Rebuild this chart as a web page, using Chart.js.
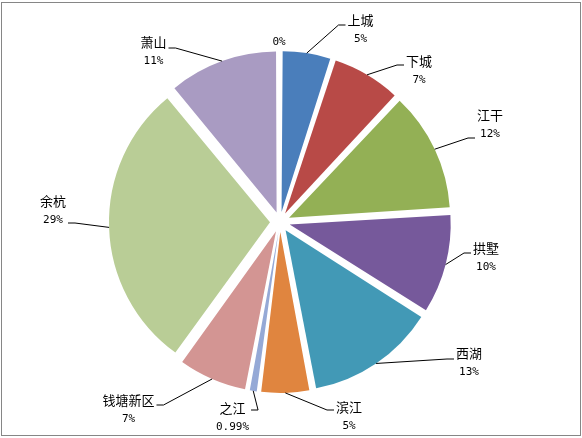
<!DOCTYPE html>
<html>
<head>
<meta charset="utf-8">
<script src="https://cdn.jsdelivr.net/npm/chart.js@4"></script>
<style>
html,body{margin:0;padding:0;background:#fff;}
#wrap{position:relative;width:582px;height:438px;}
</style>
</head>
<body>
<div id="wrap"><canvas id="c" width="582" height="438"></canvas></div>
<script>
// ---- data ----
const categories = ['', '上城', '下城', '江干', '拱墅', '西湖', '滨江', '之江', '钱塘新区', '余杭', '萧山'];
const shares = [0, 5, 7, 12, 10, 13, 5, 0.99, 7, 29, 11];
const shareLabels = ['0%', '5%', '7%', '12%', '10%', '13%', '5%', '0.99%', '7%', '29%', '11%'];
const sliceColors = ['#4a7ebb', '#4a7ebb', '#b84a47', '#93b055', '#76599b', '#4299b6', '#e0853f', '#95a9d6', '#d39593', '#b9cd96', '#a99bc2'];

// ---- layout / style ----
const EXPLODE = 10;   // px each slice is pulled out
const RADIUS = 161;
// label block centre offsets from pie centre, and vertical attach offset of leader
const labelPlace = [
  [-1, -180, 0], [80.5, -192, -5], [139, -151.5, -5.5], [210, -97.5, 13.5], [206, 35.5, -4.5],
  [189, 140.5, -3.5], [69, 195, -7], [-47.5, 195.5, -7.5], [-151.5, 187.5, -4.5], [-227, -11.5, 12.5], [-126.5, -170.5, -3.5]
];

// keep radius constant for all exploded slices (Chart.js enlarges small ones)
const uniformExplode = {
  id: 'uniformExplode',
  beforeDatasetDraw(chart) {
    chart.getDatasetMeta(0).data.forEach(arc => {
      const o = (arc.options.offset || 0) / 4;
      const fix = 1 - Math.sin(Math.min(Math.PI, arc.circumference || 0));
      arc._origR = arc.outerRadius;
      arc.outerRadius = arc.outerRadius - o * fix;
    });
  },
  afterDatasetDraw(chart) {
    chart.getDatasetMeta(0).data.forEach(arc => {
      if (arc._origR !== undefined) arc.outerRadius = arc._origR;
    });
  }
};

const sliceLabels = {
  id: 'sliceLabels',
  afterDraw(chart, args, opts) {
    const ctx = chart.ctx;
    const meta = chart.getDatasetMeta(0);
    ctx.save();
    // frame
    ctx.strokeStyle = '#868686';
    ctx.lineWidth = 1;
    ctx.strokeRect(1.5, 2.5, 579, 433);
    meta.data.forEach((arc, i) => {
      const {x, y, startAngle, endAngle, outerRadius} = arc.getProps(['x', 'y', 'startAngle', 'endAngle', 'outerRadius'], true);
      const mid = (startAngle + endAngle) / 2;
      const p = opts.place[i];
      const bx = x + p[0], by = y + p[1];
      const name = categories[i];
      const pct = shareLabels[i];
      ctx.textAlign = 'center';
      ctx.textBaseline = 'middle';
      ctx.fillStyle = '#000';
      ctx.font = opts.nameFont;
      const wName = name ? ctx.measureText(name).width : 0;
      if (name) ctx.fillText(name, bx, by - 9.5);
      ctx.font = opts.pctFont;
      const wPct = ctx.measureText(pct).width;
      ctx.fillText(pct, bx, name ? by + 9.5 : by);
      if (shares[i] > 0) {
        const r = outerRadius + opts.explode;
        const sx = x + Math.cos(mid) * r;
        const sy = y + Math.sin(mid) * r;
        const half = Math.max(wName, wPct) / 2;
        const leftSide = bx > sx;
        const ax = leftSide ? bx - half - 2 : bx + half + 2;
        const ay = by + p[2];
        const ex = leftSide ? ax - 7 : ax + 7;
        ctx.strokeStyle = '#000';
        ctx.lineWidth = 1;
        ctx.beginPath();
        ctx.moveTo(sx, sy);
        ctx.lineTo(ex, ay);
        ctx.lineTo(ax, ay);
        ctx.stroke();
      }
    });
    ctx.restore();
  }
};

const total = shares.reduce((a, b) => a + b, 0);

new Chart(document.getElementById('c'), {
  type: 'pie',
  data: {
    labels: categories,
    datasets: [{
      data: shares,
      backgroundColor: sliceColors,
      borderWidth: 0,
      offset: 4 * EXPLODE,
      hoverOffset: 0
    }]
  },
  options: {
    responsive: false,
    animation: false,
    events: [],
    radius: RADIUS,
    layout: {padding: {top: 56, bottom: 50, left: 9, right: 31}},
    plugins: {
      legend: {display: false},
      tooltip: {enabled: false},
      sliceLabels: {
        place: labelPlace,
        explode: EXPLODE,
        nameFont: "13px 'Noto Sans CJK SC'",
        pctFont: "11px 'DejaVu Sans Mono'"
      }
    }
  },
  plugins: [uniformExplode, sliceLabels]
});
</script>
</body>
</html>
